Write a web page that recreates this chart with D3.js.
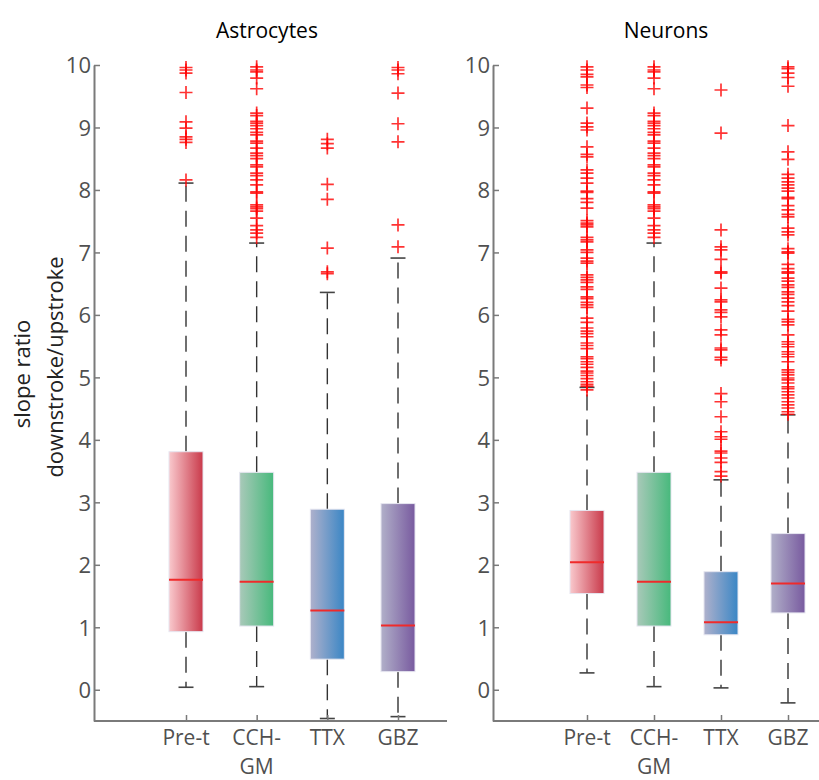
<!DOCTYPE html>
<html>
<head>
<meta charset="utf-8">
<script src="https://cdn.jsdelivr.net/npm/d3@7"></script>
<style>
  body { margin: 0; background: #fff; }
  text { font-family: "Open Sans", "Noto Sans", sans-serif; }
</style>
</head>
<body>
<svg id="chart" width="819" height="780"></svg>
<script>
// categories + tick labels
const categories = ["Pre-t", "CCH-GM", "TTX", "GBZ"];
const yTicks = [0, 1, 2, 3, 4, 5, 6, 7, 8, 9, 10];

// astrocytes box stats
const astroLow    = [0.04, 0.05, -0.46, -0.43];
const astroQ1     = [0.93, 1.02, 0.49, 0.29];
const astroMedian = [1.76, 1.73, 1.27, 1.03];
const astroQ3     = [3.81, 3.48, 2.89, 2.98];
const astroHigh   = [8.11, 7.15, 6.36, 6.91];

// neurons box stats
const neuronLow    = [0.27, 0.05, 0.03, -0.21];
const neuronQ1     = [1.54, 1.02, 0.88, 1.23];
const neuronMedian = [2.04, 1.73, 1.08, 1.70];
const neuronQ3     = [2.87, 3.48, 1.89, 2.50];
const neuronHigh   = [4.84, 7.15, 3.36, 4.40];

// outliers
const cchOut = [9.97, 9.92, 9.89, 9.79, 9.62, 9.23, 9.19, 9.10, 9.07, 9.03, 8.98, 8.92, 8.88,
  8.78, 8.75, 8.67, 8.59, 8.55, 8.50, 8.40, 8.37, 8.27, 8.23, 8.16, 8.08, 7.97, 7.95,
  7.76, 7.73, 7.70, 7.66, 7.55, 7.43, 7.36, 7.31, 7.24];
const astroPreOut = [8.16, 8.76, 8.81, 8.85, 8.99, 9.09, 9.56, 9.87, 9.92, 9.96];
const astroTtxOut = [6.66, 6.69, 7.07, 7.85, 8.09, 8.67, 8.74, 8.81];
const astroGbzOut = [7.09, 7.44, 8.77, 9.06, 9.55, 9.86, 9.92, 9.96];

const neuronPreOut = [9.97, 9.92, 9.85, 9.81, 9.68, 9.64, 9.31, 9.07, 9.01, 8.96, 8.69, 8.57,
  8.53, 8.32, 8.27, 8.19, 8.11, 7.98, 7.96, 7.86, 7.80, 7.71, 7.51, 7.47, 7.41, 7.44,
  7.24, 7.20, 7.17, 7.04, 7.00, 6.91, 6.86, 6.83, 6.64, 6.60, 6.56, 6.52, 6.45, 6.41,
  6.29, 6.26, 6.20, 6.16, 6.12, 5.95, 5.88, 5.79, 5.74, 5.70, 5.65, 5.55, 5.51, 5.46,
  5.33, 5.30, 5.25, 5.21, 5.16, 5.10, 5.07, 5.03, 4.98, 4.93, 4.89, 4.86, 4.80];
const neuronTtxOut = [9.60, 8.91, 7.36, 7.09, 7.04, 6.89, 6.69, 6.67, 6.43, 6.24, 6.21, 6.08,
  6.04, 5.97, 5.76, 5.68, 5.47, 5.44, 5.32, 5.28, 4.74, 4.61, 4.37, 4.13, 4.05, 4.01,
  3.82, 3.79, 3.71, 3.64, 3.49, 3.42];
const neuronGbzOut = [9.97, 9.94, 9.87, 9.80, 9.66, 9.03, 8.61, 8.49, 8.25, 8.19, 8.13, 8.08,
  8.03, 7.98, 7.88, 7.86, 7.75, 7.68, 7.61, 7.57, 7.39, 7.33, 7.28, 7.06, 7.01, 6.99,
  6.81, 6.74, 6.69, 6.67, 6.59, 6.54, 6.48, 6.44, 6.37, 6.33, 6.27, 6.21, 6.15, 6.06,
  5.93, 5.89, 5.84, 5.68, 5.57, 5.53, 5.49, 5.41, 5.37, 5.33, 5.25, 5.12, 5.08, 5.04,
  4.99, 4.96, 4.91, 4.85, 4.82, 4.77, 4.72, 4.67, 4.61, 4.56, 4.51, 4.45, 4.41];

const astroOutliers = [astroPreOut, cchOut, astroTtxOut, astroGbzOut];
const neuronOutliers = [neuronPreOut, cchOut, neuronTtxOut, neuronGbzOut];

// box gradient colours (light -> saturated)
const boxLight = ["#f9c9cd", "#a9c9b9", "#afb1cc", "#b1b0c9"];
const boxDark  = ["#c9394a", "#47b97c", "#3a86c5", "#785a9f"];

function buildBoxes(low, q1, med, q3, high, outs) {
  return categories.map((c, i) => ({
    cat: c, i: i, low: low[i], q1: q1[i], med: med[i], q3: q3[i], high: high[i], outs: outs[i]
  }));
}

const panels = [
  { title: "Astrocytes", left: 94, width: 353, xr: [92, 304],
    boxes: buildBoxes(astroLow, astroQ1, astroMedian, astroQ3, astroHigh, astroOutliers) },
  { title: "Neurons", left: 493, width: 340, xr: [94, 295],
    boxes: buildBoxes(neuronLow, neuronQ1, neuronMedian, neuronQ3, neuronHigh, neuronOutliers) }
];

const svg = d3.select("#chart");
const axisColor = "#7a7a7a";
const boxW = 34, capW = 15;

const y = d3.scaleLinear().domain([-0.5, 10]).range([721, 65]);

// gradients
const defs = svg.append("defs");
categories.forEach((c, i) => {
  const g = defs.append("linearGradient")
    .attr("id", "grad" + i)
    .attr("x1", "0%").attr("x2", "100%").attr("y1", "0%").attr("y2", "0%");
  g.append("stop").attr("offset", "0%").attr("stop-color", boxLight[i]);
  g.append("stop").attr("offset", "100%").attr("stop-color", boxDark[i]);
});

panels.forEach(p => {
  const g = svg.append("g");
  const x = d3.scalePoint().domain(categories).range([p.left + p.xr[0], p.left + p.xr[1]]);

  // title
  g.append("text")
    .attr("x", p.left + 173)
    .attr("y", 38)
    .attr("text-anchor", "middle")
    .style("font-size", "21px")
    .style("fill", "#000")
    .text(p.title);

  // whiskers
  const wh = g.selectAll(".wh").data(p.boxes).enter().append("g");
  wh.append("line")
    .attr("x1", d => x(d.cat)).attr("x2", d => x(d.cat))
    .attr("y1", d => y(d.q3)).attr("y2", d => y(d.high))
    .attr("stroke", "#333").attr("stroke-width", 1.4)
    .attr("stroke-dasharray", "16,9");
  wh.append("line")
    .attr("x1", d => x(d.cat)).attr("x2", d => x(d.cat))
    .attr("y1", d => y(d.q1)).attr("y2", d => y(d.low))
    .attr("stroke", "#333").attr("stroke-width", 1.4)
    .attr("stroke-dasharray", "16,9");
  // caps
  wh.append("line")
    .attr("x1", d => x(d.cat) - capW / 2).attr("x2", d => x(d.cat) + capW / 2)
    .attr("y1", d => y(d.high)).attr("y2", d => y(d.high))
    .attr("stroke", "#444").attr("stroke-width", 1.6);
  wh.append("line")
    .attr("x1", d => x(d.cat) - capW / 2).attr("x2", d => x(d.cat) + capW / 2)
    .attr("y1", d => y(d.low)).attr("y2", d => y(d.low))
    .attr("stroke", "#444").attr("stroke-width", 1.6);

  // boxes
  g.selectAll(".box").data(p.boxes).enter().append("rect")
    .attr("x", d => x(d.cat) - boxW / 2)
    .attr("y", d => y(d.q3))
    .attr("width", boxW)
    .attr("height", d => y(d.q1) - y(d.q3))
    .attr("fill", d => "url(#grad" + d.i + ")")
    .attr("stroke", "#e6e6f0")
    .attr("stroke-width", 1);

  // medians
  g.selectAll(".med").data(p.boxes).enter().append("line")
    .attr("x1", d => x(d.cat) - boxW / 2).attr("x2", d => x(d.cat) + boxW / 2)
    .attr("y1", d => y(d.med)).attr("y2", d => y(d.med))
    .attr("stroke", "#f02a2a").attr("stroke-width", 2);

  // outliers
  const pts = [];
  p.boxes.forEach(b => b.outs.forEach(v => pts.push({ cat: b.cat, v: v })));
  g.selectAll(".out").data(pts).enter().append("path")
    .attr("transform", d => `translate(${x(d.cat)},${y(d.v)})`)
    .attr("d", "M-6.5,0H6.5M0,-6.5V6.5")
    .attr("stroke", "#ff0000")
    .attr("stroke-width", 1.7)
    .attr("stroke-opacity", 0.8)
    .attr("fill", "none");

  // y axis
  const ya = g.append("g")
    .attr("transform", `translate(${p.left},0)`)
    .call(d3.axisLeft(y).tickValues(yTicks).tickSize(-6).tickSizeOuter(0).tickPadding(3));
  ya.select(".domain").attr("stroke", axisColor).attr("stroke-width", 2);
  ya.selectAll(".tick line").attr("stroke", axisColor).attr("stroke-width", 1.5);
  ya.selectAll(".tick text")
    .style("font-size", "22px")
    .style("fill", "#505050")
    .attr("dy", "0.36em");

  // x axis
  const xa = g.append("g")
    .attr("transform", `translate(0,${y(-0.5)})`)
    .call(d3.axisBottom(x).tickSize(-6).tickSizeOuter(0).tickFormat(""));
  xa.select(".domain").remove();
  xa.selectAll(".tick line").attr("stroke", axisColor).attr("stroke-width", 1.5);
  g.append("line")
    .attr("x1", p.left).attr("x2", p.left + p.width)
    .attr("y1", y(-0.5)).attr("y2", y(-0.5))
    .attr("stroke", axisColor).attr("stroke-width", 2);

  // category labels, long ones wrap after the hyphen
  const lab = g.selectAll(".lab").data(categories).enter().append("text")
    .attr("x", d => x(d))
    .attr("y", 745)
    .attr("text-anchor", "middle")
    .style("font-size", "21px")
    .style("fill", "#505050");
  lab.each(function(d) {
    const parts = d.length > 5 ? [d.slice(0, d.indexOf("-") + 1), d.slice(d.indexOf("-") + 1)] : [d];
    d3.select(this).selectAll("tspan").data(parts).enter().append("tspan")
      .attr("x", x(d))
      .attr("dy", (t, k) => k === 0 ? 0 : 29)
      .text(t => t);
  });
});

// y label
svg.append("text")
  .attr("transform", "translate(30,374) rotate(-90)")
  .attr("text-anchor", "middle")
  .style("font-size", "22px")
  .style("fill", "#222")
  .text("slope ratio");
svg.append("text")
  .attr("transform", "translate(63,367) rotate(-90)")
  .attr("text-anchor", "middle")
  .style("font-size", "22px")
  .style("fill", "#222")
  .text("downstroke/upstroke");
</script>
</body>
</html>
